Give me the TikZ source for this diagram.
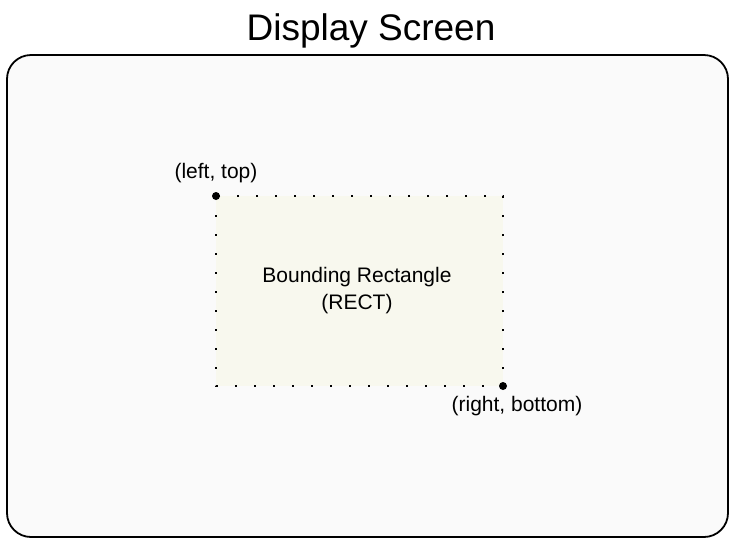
\documentclass[tikz,border=0pt]{standalone}
\usepackage{fontspec}
\setmainfont{Liberation Sans}
\definecolor{screenfill}{RGB}{250,250,250}
\definecolor{rectfill}{RGB}{248,248,238}

\begin{document}
\begin{tikzpicture}[x=1pt,y=-1pt]
\useasboundingbox (0,0) rectangle (734,542);
\node [anchor=base, font=\fontsize{37}{44}\selectfont] (Title) at (371,40) {Display Screen};
\draw [line width=1.8pt, rounded corners=24pt, fill=screenfill] (7,55) rectangle (728,537);
\coordinate [label={[font=\fontsize{21}{26}\selectfont, label distance=10pt]above:(left, top)}] (LT) at (216,196);
\coordinate [label={[font=\fontsize{21}{26}\selectfont, label distance=7pt, xshift=14pt]below:(right, bottom)}] (RB) at (503,386);
\fill [rectfill] (LT) rectangle (RB);
\draw [line width=2.6pt, dash pattern=on 2.4pt off 16.6pt] (LT) rectangle (RB);
\fill (LT) circle (4pt);
\fill (RB) circle (4pt);
\node [align=center, font=\fontsize{21}{27}\selectfont] (RECT) at (357,291) {Bounding Rectangle\\(RECT)};

% corner points of the bounding rectangle on the screen


\end{tikzpicture}
\end{document}
